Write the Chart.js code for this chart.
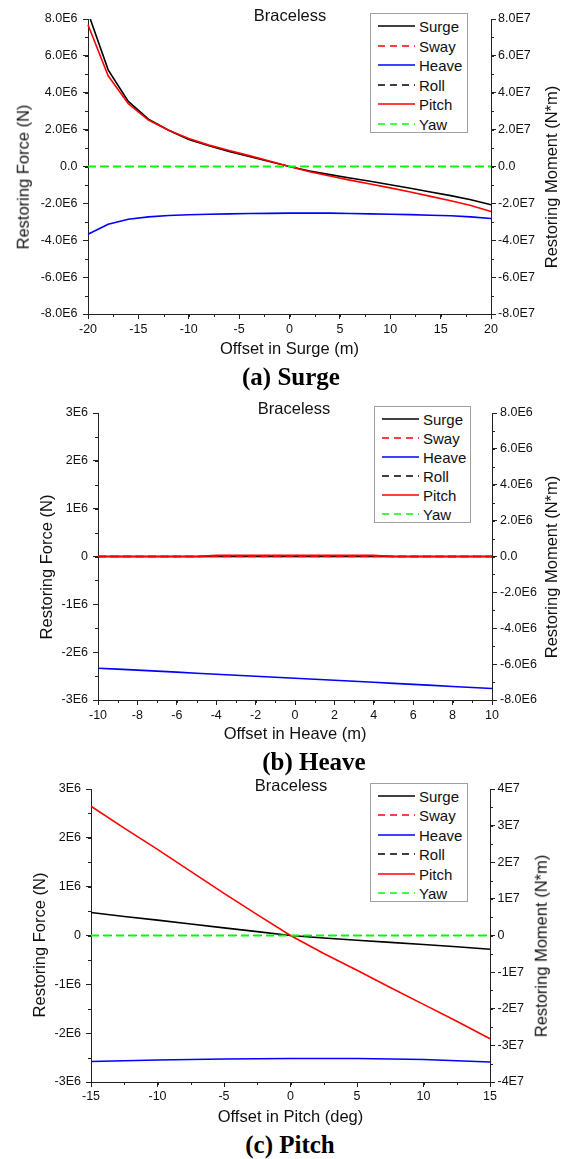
<!DOCTYPE html>
<html>
<head>
<meta charset="utf-8">
<script src="https://cdn.jsdelivr.net/npm/chart.js@4.4.1/dist/chart.umd.min.js"></script>
<style>
  body { margin: 0; background: #fff; width: 571px; height: 1159px; position: relative; overflow: hidden;
         font-family: "Liberation Sans", Arial, sans-serif; }
  canvas { position: absolute; left: 0; }
  .txt { position: absolute; white-space: nowrap; line-height: 1; color: #111; transform: translate(-50%, -50%); }
  .title { font-size: 16.5px; }
  .ytitle { font-size: 16.5px; transform: translate(-50%, -50%) rotate(-90deg); }
  .caption { font-family: "Liberation Serif", "Times New Roman", serif; font-weight: bold; font-size: 25px; color: #000; }
  .legend { position: absolute; border: 1px solid #a0a0a0; background: #fff; box-sizing: border-box; }
  .legend svg { position: absolute; left: 7px; }
  .legend span { position: absolute; left: 48px; font-size: 15px; line-height: 1; color: #111; transform: translateY(-50%); white-space: nowrap; }
</style>
</head>
<body>
<canvas id="chartSurge" width="571" height="360" style="top:0px"></canvas>
<canvas id="chartHeave" width="571" height="355" style="top:390px"></canvas>
<canvas id="chartPitch" width="571" height="360" style="top:770px"></canvas>
<script>
// series shared by all three panels
const seriesNames = ['Surge', 'Sway', 'Heave', 'Roll', 'Pitch', 'Yaw'];
const seriesAxis = ['y', 'y', 'y', 'y2', 'y2', 'y2'];   // forces left, moments right
const seriesColor = ['#000000', '#ff0000', '#0000ff', '#000000', '#ff0000', '#00ff00'];
const seriesDashed = [false, true, false, true, false, true];

// (a) offset in surge (m)
const surgeOffset = [-20, -18, -16, -14, -12, -10, -8, -6, -4, -2, 0, 2, 4, 6, 8, 10, 12, 14, 16, 18, 20];
const surgeCaseSurge = [8.35e6, 5.24e6, 3.53e6, 2.57e6, 1.97e6, 1.47e6, 1.12e6, 0.82e6, 0.55e6, 0.27e6, 0,
  -0.24e6, -0.44e6, -0.62e6, -0.80e6, -0.99e6, -1.18e6, -1.38e6, -1.58e6, -1.80e6, -2.08e6];
const surgeCaseSway = [0, 0, 0, 0, 0, 0, 0, 0, 0, 0, 0, 0, 0, 0, 0, 0, 0, 0, 0, 0, 0];
const surgeCaseHeave = [-3.67e6, -3.13e6, -2.86e6, -2.73e6, -2.66e6, -2.62e6, -2.59e6, -2.57e6, -2.55e6, -2.54e6, -2.53e6,
  -2.53e6, -2.53e6, -2.55e6, -2.57e6, -2.59e6, -2.61e6, -2.64e6, -2.67e6, -2.73e6, -2.82e6];
const surgeCaseRoll = [0, 0, 0, 0, 0, 0, 0, 0, 0, 0, 0, 0, 0, 0, 0, 0, 0, 0, 0, 0, 0];
const surgeCasePitch = [7.69e7, 4.92e7, 3.40e7, 2.52e7, 1.97e7, 1.52e7, 1.16e7, 0.87e7, 0.59e7, 0.30e7, 0,
  -0.28e7, -0.52e7, -0.74e7, -0.95e7, -1.16e7, -1.38e7, -1.62e7, -1.86e7, -2.12e7, -2.44e7];
const surgeCaseYaw = [0, 0, 0, 0, 0, 0, 0, 0, 0, 0, 0, 0, 0, 0, 0, 0, 0, 0, 0, 0, 0];
const surgeForceTicks = ['-8.0E6', '-6.0E6', '-4.0E6', '-2.0E6', '0.0', '2.0E6', '4.0E6', '6.0E6', '8.0E6'];
const surgeMomentTicks = ['-8.0E7', '-6.0E7', '-4.0E7', '-2.0E7', '0.0', '2.0E7', '4.0E7', '6.0E7', '8.0E7'];

// (b) offset in heave (m)
const heaveOffset = [-10, -9, -8, -7, -6, -5, -4, -3, -2, -1, 0, 1, 2, 3, 4, 5, 6, 7, 8, 9, 10];
const heaveCaseSurge = [0, 0, 0, 0, 0, 0, 0, 0, 0, 0, 0, 0, 0, 0, 0, 0, 0, 0, 0, 0, 0];
const heaveCaseSway = [0, 0, 0, 0, 0, 0, 0, 0, 0, 0, 0, 0, 0, 0, 0, 0, 0, 0, 0, 0, 0];
const heaveCaseHeave = [-2.335e6, -2.355e6, -2.375e6, -2.396e6, -2.418e6, -2.44e6, -2.461e6, -2.482e6, -2.503e6, -2.524e6, -2.545e6,
  -2.566e6, -2.588e6, -2.609e6, -2.63e6, -2.652e6, -2.674e6, -2.695e6, -2.717e6, -2.738e6, -2.76e6];
const heaveCaseRoll = [0, 0, 0, 0, 0, 0, 0.03e6, 0.03e6, 0.03e6, 0.03e6, 0.03e6, 0.03e6, 0.03e6, 0.03e6, 0.03e6, 0, 0, 0, 0, 0, 0];
const heaveCasePitch = [0, 0, 0, 0, 0, 0, 0.06e6, 0.06e6, 0.06e6, 0.06e6, 0.06e6, 0.06e6, 0.06e6, 0.06e6, 0.06e6, 0, 0, 0, 0, 0, 0];
const heaveCaseYaw = [0, 0, 0, 0, 0, 0, 0, 0, 0, 0, 0, 0, 0, 0, 0, 0, 0, 0, 0, 0, 0];
const heaveForceTicks = ['-3E6', '-2E6', '-1E6', '0', '1E6', '2E6', '3E6'];
const heaveMomentTicks = ['-8.0E6', '-6.0E6', '-4.0E6', '-2.0E6', '0.0', '2.0E6', '4.0E6', '6.0E6', '8.0E6'];

// (c) offset in pitch (deg)
const pitchOffset = [-15, -12.5, -10, -7.5, -5, -2.5, 0, 2.5, 5, 7.5, 10, 12.5, 15];
const pitchCaseSurge = [0.47e6, 0.39e6, 0.315e6, 0.235e6, 0.157e6, 0.08e6, 0, -0.05e6, -0.096e6, -0.14e6, -0.185e6, -0.23e6, -0.28e6];
const pitchCaseSway = [0, 0, 0, 0, 0, 0, 0, 0, 0, 0, 0, 0, 0];
const pitchCaseHeave = [-2.58e6, -2.565e6, -2.55e6, -2.54e6, -2.53e6, -2.525e6, -2.52e6, -2.52e6, -2.52e6, -2.53e6, -2.54e6, -2.565e6, -2.59e6];
const pitchCaseRoll = [0, 0, 0, 0, 0, 0, 0, 0, 0, 0, 0, 0, 0];
const pitchCasePitch = [3.53e7, 2.93e7, 2.35e7, 1.75e7, 1.15e7, 0.57e7, 0, -0.49e7, -0.95e7, -1.42e7, -1.88e7, -2.34e7, -2.82e7];
const pitchCaseYaw = [0, 0, 0, 0, 0, 0, 0, 0, 0, 0, 0, 0, 0];
const pitchForceTicks = ['-3E6', '-2E6', '-1E6', '0', '1E6', '2E6', '3E6'];
const pitchMomentTicks = ['-4E7', '-3E7', '-2E7', '-1E7', '0', '1E7', '2E7', '3E7', '4E7'];

Chart.defaults.font.family = '"Liberation Sans", Arial, sans-serif';

// small outward ticks between the labelled ones
const minorTicks = {
    id: 'minorTicks',
    afterDraw(chart, args, opts) {
        const ctx = chart.ctx;
        ctx.save();
        ctx.strokeStyle = '#222';
        ctx.lineWidth = 1;
        Object.entries(opts.steps || {}).forEach(([id, step]) => {
            const scale = chart.scales[id];
            const n = Math.round((scale.max - scale.min) / step);
            for (let i = 0; i <= n; i++) {
                const p = Math.round(scale.getPixelForValue(scale.min + i * step)) + 0.5;
                ctx.beginPath();
                if (id === 'x') {
                    ctx.moveTo(p, scale.top);
                    ctx.lineTo(p, scale.top + 3);
                } else if (scale.position === 'left') {
                    ctx.moveTo(scale.right, p);
                    ctx.lineTo(scale.right - 3, p);
                } else {
                    ctx.moveTo(scale.left, p);
                    ctx.lineTo(scale.left + 3, p);
                }
                ctx.stroke();
            }
        });
        ctx.restore();
    }
};

function axis(extra) {
    return Object.assign({
        border: { display: true, color: '#222', width: 1 },
        grid: { drawOnChartArea: false, drawTicks: true, tickLength: 5, color: '#222', lineWidth: 1 },
    }, extra);
}

function makeChart(id, p) {
    const order = p.order || [3, 5, 2, 4, 1, 0];
    const widths = p.widths || [1.6, 1.6, 1.6, 1.6, 1.6, 1.6];
    const datasets = seriesNames.map((name, i) => ({
        label: name,
        data: p.x.map((x, k) => ({ x: x, y: p.series[i][k] })),
        yAxisID: seriesAxis[i],
        borderColor: seriesColor[i],
        borderWidth: widths[i],
        borderDash: seriesDashed[i] ? [8, 4.5] : [],
        borderDashOffset: p.dashOffset ? p.dashOffset[i] : 0,
        pointRadius: 0,
        fill: false,
        order: order[i],
        clip: { left: 2, right: 2, top: 0, bottom: 0 }
    }));

    new Chart(document.getElementById(id), {
        type: 'line',
        data: { datasets },
        options: {
            responsive: false,
            animation: false,
            events: [],
            layout: { padding: { top: p.padTop, left: 0, right: 0, bottom: 0 } },
            plugins: {
                legend: { display: false },
                tooltip: { enabled: false },
                minorTicks: { steps: p.minor }
            },
            scales: {
                x: axis({
                    type: 'linear',
                    position: 'bottom',
                    min: p.x[0],
                    max: p.x[p.x.length - 1],
                    ticks: { stepSize: p.xStep, padding: p.xPad, color: '#111', font: { size: 12.5 }, maxRotation: 0, autoSkip: false },
                    title: { display: true, text: p.xTitle, color: '#111', font: { size: 16.5 }, padding: { top: 0, bottom: p.xTitlePad } },
                    afterFit: s => { s.height = p.xHeight; }
                }),
                y: axis({
                    position: 'left',
                    min: p.yMin,
                    max: -p.yMin,
                    ticks: { stepSize: p.yStep, padding: p.yPad, color: '#111', font: { size: 12.5 }, callback: (v, i) => p.yTicks[i] },
                    afterFit: s => { s.width = p.left; }
                }),
                y2: axis({
                    position: 'right',
                    min: p.y2Min,
                    max: -p.y2Min,
                    ticks: { stepSize: p.y2Step, padding: p.y2Pad, color: '#111', font: { size: 12.5 }, callback: (v, i) => p.y2Ticks[i] },
                    afterFit: s => { s.width = 571 - p.right; }
                })
            }
        },
        plugins: [minorTicks]
    });
}

function addText(cls, text, x, y) {
    const d = document.createElement('div');
    d.className = 'txt ' + cls;
    d.textContent = text;
    d.style.left = x + 'px';
    d.style.top = y + 'px';
    document.body.appendChild(d);
}

function addLegend(left, top, width, height, firstRow, rowGap) {
    const box = document.createElement('div');
    box.className = 'legend';
    Object.assign(box.style, { left: left + 'px', top: top + 'px', width: width + 'px', height: height + 'px' });
    seriesNames.forEach((name, i) => {
        const cy = firstRow + i * rowGap;
        const dash = seriesDashed[i] ? ' stroke-dasharray="7 5"' : '';
        box.insertAdjacentHTML('beforeend',
            `<svg width="37" height="4" style="top:${cy - 2}px"><line x1="0" y1="2" x2="37" y2="2" stroke="${seriesColor[i]}" stroke-width="1.6"${dash}/></svg>` +
            `<span style="top:${cy}px">${name}</span>`);
    });
    document.body.appendChild(box);
}

makeChart('chartSurge', {
    x: surgeOffset, xStep: 5, xTitle: 'Offset in Surge (m)',
    series: [surgeCaseSurge, surgeCaseSway, surgeCaseHeave, surgeCaseRoll, surgeCasePitch, surgeCaseYaw],
    yMin: -8e6, yStep: 2e6, yTicks: surgeForceTicks,
    y2Min: -8e7, y2Step: 2e7, y2Ticks: surgeMomentTicks,
    minor: { x: 2.5, y: 1e6, y2: 1e7 },
    widths: [1.6, 1, 1.6, 1, 1.6, 2],
    padTop: 19, left: 88, right: 491, xHeight: 46, xPad: 3, xTitlePad: 1, yPad: 5.5, y2Pad: 2
});

makeChart('chartHeave', {
    x: heaveOffset, xStep: 2, xTitle: 'Offset in Heave (m)',
    series: [heaveCaseSurge, heaveCaseSway, heaveCaseHeave, heaveCaseRoll, heaveCasePitch, heaveCaseYaw],
    yMin: -3e6, yStep: 1e6, yTicks: heaveForceTicks,
    y2Min: -8e6, y2Step: 2e6, y2Ticks: heaveMomentTicks,
    minor: { x: 1, y: 0.5e6, y2: 1e6 },
    order: [3, 0, 2, 4, 1, 5],
    dashOffset: [0, 0, 0, 0, 0, 6],
    padTop: 23, left: 98, right: 492, xHeight: 45, xPad: 3, xTitlePad: 1, yPad: 5, y2Pad: 3
});

makeChart('chartPitch', {
    x: pitchOffset, xStep: 5, xTitle: 'Offset in Pitch (deg)',
    series: [pitchCaseSurge, pitchCaseSway, pitchCaseHeave, pitchCaseRoll, pitchCasePitch, pitchCaseYaw],
    yMin: -3e6, yStep: 1e6, yTicks: pitchForceTicks,
    y2Min: -4e7, y2Step: 1e7, y2Ticks: pitchMomentTicks,
    minor: { x: 2.5, y: 0.5e6, y2: 0.5e7 },
    widths: [1.6, 1, 1.6, 1, 1.6, 2],
    padTop: 19, left: 91, right: 490, xHeight: 48, xPad: 2.5, xTitlePad: 3, yPad: 5, y2Pad: 2.5
});

// titles, rotated axis titles, captions
addText('title', 'Braceless', 290, 14.5);
addText('ytitle', 'Restoring Force (N)', 23, 177);
addText('ytitle', 'Restoring Moment (N*m)', 551, 177);
addText('caption', '(a) Surge', 291, 376);
addLegend(370, 12.7, 98, 120, 12.3, 19.6);

addText('title', 'Braceless', 294, 407.8);
addText('ytitle', 'Restoring Force (N)', 46, 566.5);
addText('ytitle', 'Restoring Moment (N*m)', 551, 566.5);
addText('caption', '(b) Heave', 314, 760.5);
addLegend(374, 406, 97, 117, 12.3, 19);

addText('title', 'Braceless', 291, 784.5);
addText('ytitle', 'Restoring Force (N)', 38.5, 945);
addText('ytitle', 'Restoring Moment (N*m)', 541, 946);
addText('caption', '(c) Pitch', 290, 1144);
addLegend(370, 782.7, 98, 119, 12.3, 19.5);
</script>
</body>
</html>
